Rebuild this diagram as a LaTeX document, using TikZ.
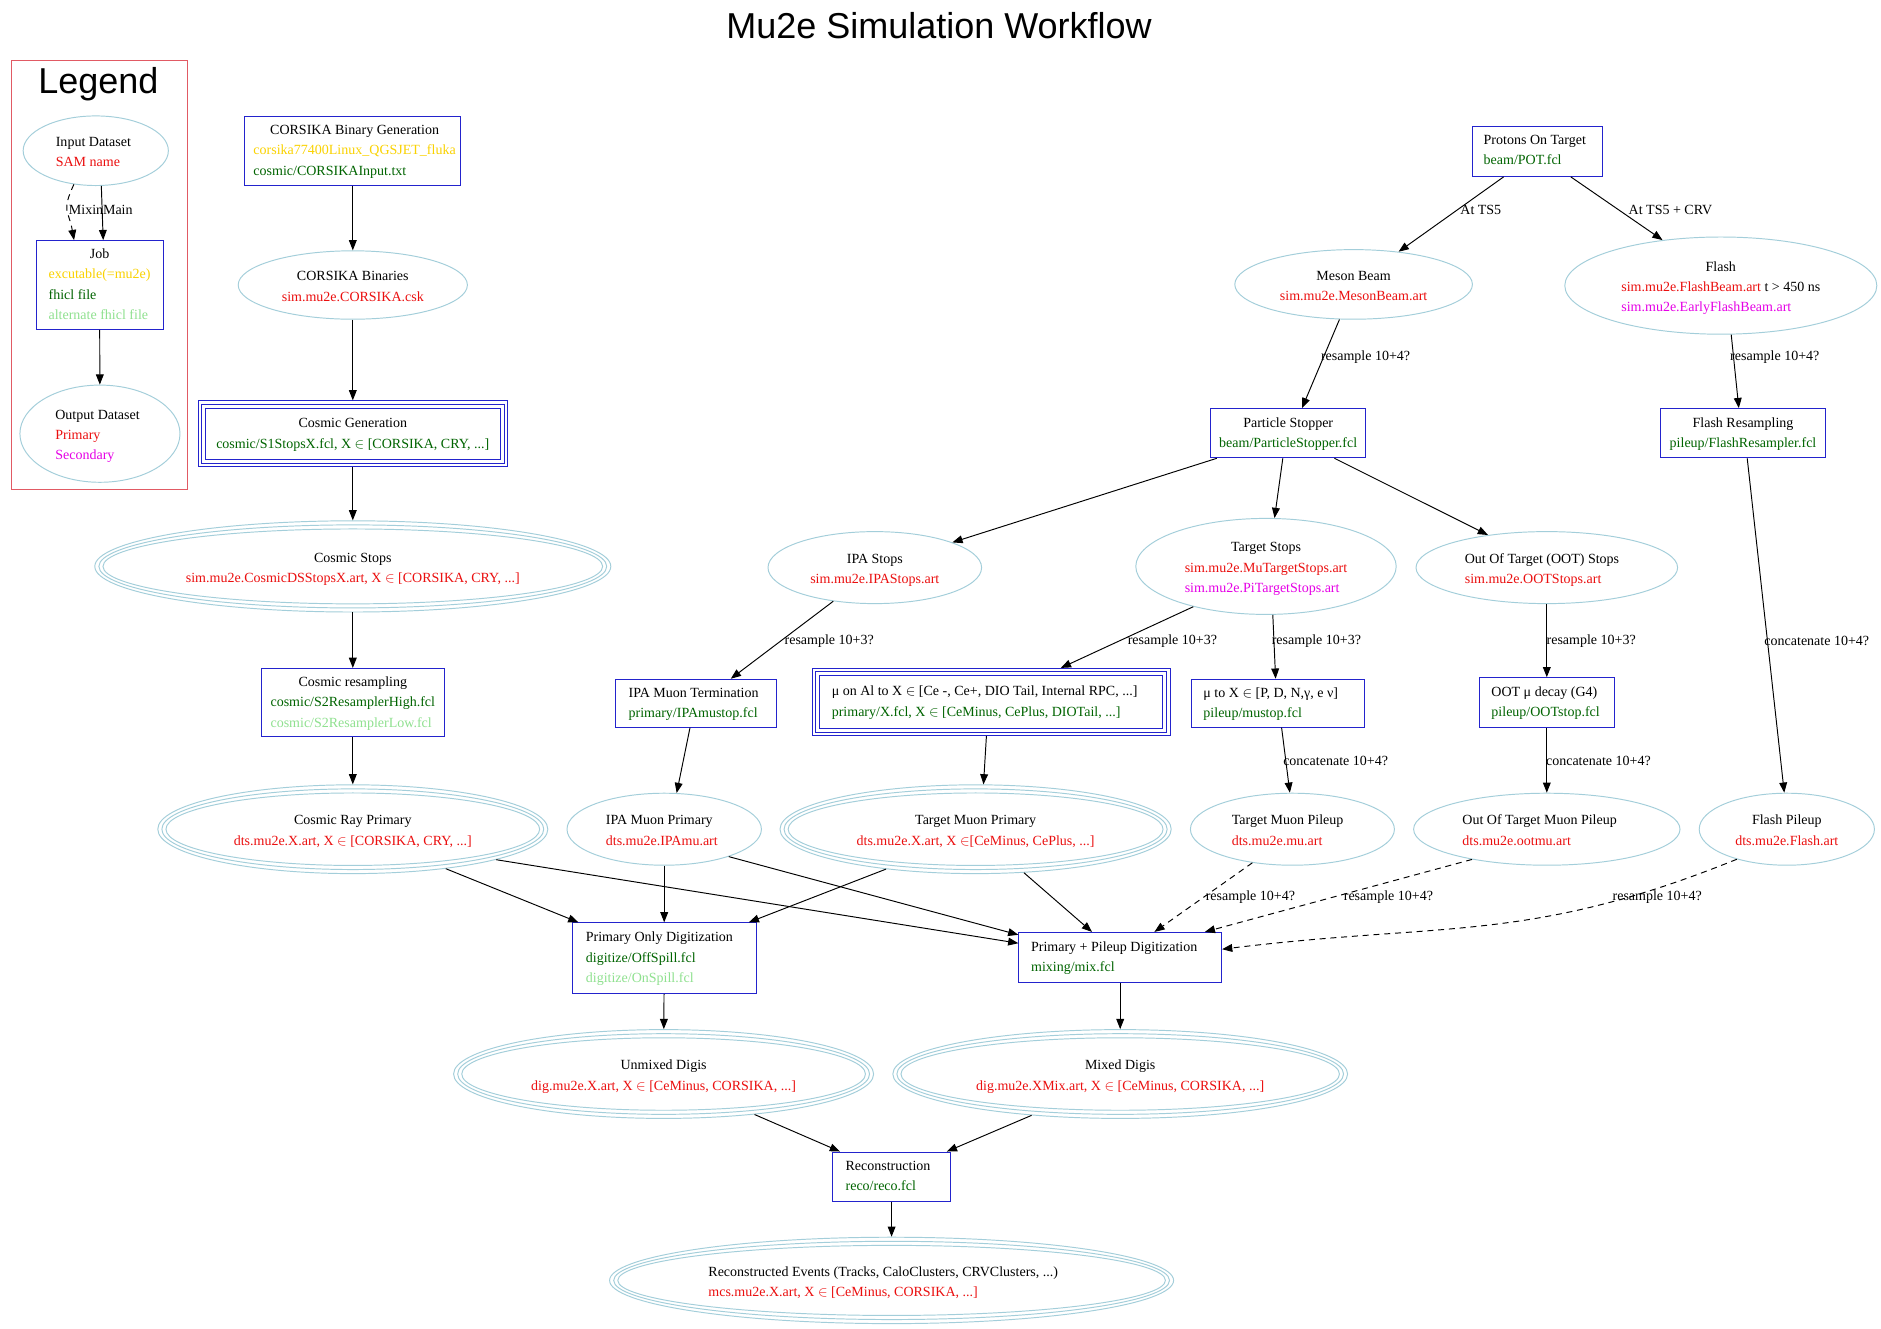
\documentclass[tikz,border=0pt]{standalone}
\usepackage{fontspec}
\setmainfont{Liberation Serif}
\newfontfamily\sansf{Liberation Sans}
\usetikzlibrary{shapes.geometric,arrows.meta,calc}
\definecolor{ellc}{RGB}{163,206,218}
\definecolor{boxc}{RGB}{35,35,205}
\definecolor{cred}{RGB}{235,15,15}
\definecolor{cdg}{RGB}{0,100,0}
\definecolor{clg}{RGB}{144,225,144}
\definecolor{cgold}{RGB}{250,210,0}
\definecolor{cmag}{RGB}{230,0,230}
\definecolor{legc}{RGB}{225,90,100}
\newcommand\tR[1]{\textcolor{cred}{#1}}
\newcommand\tG[1]{\textcolor{cdg}{#1}}
\newcommand\tLG[1]{\textcolor{clg}{#1}}
\newcommand\tY[1]{\textcolor{cgold}{#1}}
\newcommand\tM[1]{\textcolor{cmag}{#1}}
\newcommand\nf{\fontsize{11.67}{17}\selectfont}
\newcommand\cl[1]{\multicolumn{1}{@{}c@{}}{#1}}
% box labels: left-aligned block with optional leftward offset, centred block
\newcommand\TL[2]{\begin{tabular}{@{}l@{}}#2\end{tabular}\hspace*{#1}}
\newcommand\TC[1]{\begin{tabular}{@{}c@{}}#1\end{tabular}}
% ellipse labels: same, lowered slightly
\newcommand\EL[2]{\raisebox{-1.5pt}[\height][\depth]{\begin{tabular}{@{}l@{}}#2\end{tabular}}\hspace*{#1}}
\newcommand\EC[1]{\raisebox{-1.5pt}[\height][\depth]{\begin{tabular}{@{}c@{}}#1\end{tabular}}}
\newcommand\trell[3]{%
  \draw[ellc, line width=0.8pt] (#1.center) ellipse [x radius=#2-3.4, y radius=#3-3.4];
  \draw[ellc, line width=0.8pt] (#1.center) ellipse [x radius=#2-6.8, y radius=#3-6.8];}
\newcommand\trbox[1]{%
  \draw[boxc, line width=0.8pt] ([shift={(3.3pt,-3.3pt)}]#1.north west) rectangle ([shift={(-3.3pt,3.3pt)}]#1.south east);
  \draw[boxc, line width=0.8pt] ([shift={(6.6pt,-6.6pt)}]#1.north west) rectangle ([shift={(-6.6pt,6.6pt)}]#1.south east);}
\tikzset{
  ell/.style={ellipse, draw=ellc, line width=0.8pt, inner sep=0pt, font=\nf},
  box/.style={rectangle, draw=boxc, line width=0.8pt, inner sep=0pt, font=\nf},
  arr/.style={-{Triangle[length=8.5pt,width=6.5pt]}, line width=0.8pt, black},
  dsh/.style={dash pattern=on 5pt off 4pt},
  lab/.style={font=\nf, inner sep=0pt},
  bigt/.style={font=\fontsize{30}{36}\sansf, anchor=base, inner sep=0pt}
}
\begin{document}
\begin{tikzpicture}[x=1pt,y=-1pt]
\useasboundingbox[fill=white] (0,0) rectangle (1567.5,1106.7);

\node[bigt] (title) at (782.5,32) {Mu2e Simulation Workflow};

% Legend
\draw[legc, line width=0.8pt] (9.7,50) rectangle (156.4,408.3);
\node[bigt] (legtitle) at (82,78) {Legend};
\node[ell, minimum width=121, minimum height=58] (inds) at (79.8,125.6) {\EL{4pt}{Input Dataset\\ \tR{SAM name}}};
\node[box, minimum width=106, minimum height=74] (job) at (83,237.5) {\TL{0pt}{\cl{Job}\\ \tY{excutable(=mu2e)}\\ \tG{fhicl file}\\ \tLG{alternate fhicl file}}};
\node[ell, minimum width=133.4, minimum height=81] (outds) at (83.3,361.4) {\EL{4pt}{Output Dataset\\ \tR{Primary}\\ \tM{Secondary}}};
\draw[arr, dsh] (inds.-123) to[out=-115,in=100,looseness=1.4] ([xshift=-21.3pt]job.north);
\draw[arr] (inds.-81) -- ([xshift=3pt]job.north);
\draw[arr] (job) -- (outds);
\node[lab] (lmixin) at (71.7,175) {Mixin};
\node[lab] (lmain) at (98.2,175) {Main};

% Cosmic column
\node[box, minimum width=180, minimum height=57.5] (corsgen) at (294,125.5) {\TL{-3pt}{\cl{CORSIKA Binary Generation}\\ \tY{corsika77400Linux\_QGSJET\_fluka}\\ \tG{cosmic/CORSIKAInput.txt}}};
\node[ell, minimum width=191, minimum height=57] (corsbin) at (294,237.5) {\EC{CORSIKA Binaries\\ \tR{sim.mu2e.CORSIKA.csk}}};
\node[box, minimum width=258, minimum height=55] (cosgen) at (294,361.5) {\TC{Cosmic Generation\\ \tG{cosmic/S1StopsX.fcl, X $\in$ [CORSIKA, CRY, ...]}}};
\trbox{cosgen}
\node[ell, minimum width=430, minimum height=76] (cosstops) at (294,472) {\EC{Cosmic Stops\\ \tR{sim.mu2e.CosmicDSStopsX.art, X $\in$ [CORSIKA, CRY, ...]}}};
\trell{cosstops}{215}{38}
\node[box, minimum width=152, minimum height=57] (cosres) at (294,585.5) {\TL{0pt}{\cl{Cosmic resampling}\\ \tG{cosmic/S2ResamplerHigh.fcl}\\ \tLG{cosmic/S2ResamplerLow.fcl}}};
\node[ell, minimum width=325, minimum height=74] (crp) at (294,691) {\EC{Cosmic Ray Primary\\ \tR{dts.mu2e.X.art, X $\in$ [CORSIKA, CRY, ...]}}};
\trell{crp}{162.5}{37}

% Beam part
\node[box, minimum width=108, minimum height=42] (pot) at (1281,126) {\raisebox{0.8pt}[\height][\depth]{\TL{4pt}{Protons On Target\\ \tG{beam/POT.fcl}}}};
\node[ell, minimum width=198, minimum height=58] (meson) at (1128,237) {\EC{Meson Beam\\ \tR{sim.mu2e.MesonBeam.art}}};
\node[ell, minimum width=260, minimum height=81] (flash) at (1434,238) {\EL{0pt}{\cl{Flash}\\ \tR{sim.mu2e.FlashBeam.art} t > 450 ns\\ \tM{sim.mu2e.EarlyFlashBeam.art}}};
\node[box, minimum width=129, minimum height=41] (pstop) at (1073.5,361) {\TC{Particle Stopper\\ \tG{beam/ParticleStopper.fcl}}};
\node[box, minimum width=137, minimum height=41] (flashres) at (1452.5,361) {\TC{Flash Resampling\\ \tG{pileup/FlashResampler.fcl}}};

\node[ell, minimum width=178, minimum height=60] (ipastops) at (729,473) {\EC{IPA Stops\\ \tR{sim.mu2e.IPAStops.art}}};
\node[ell, minimum width=217, minimum height=80] (tstops) at (1055,472) {\EL{0pt}{\cl{Target Stops}\\ \tR{sim.mu2e.MuTargetStops.art}\\ \tM{sim.mu2e.PiTargetStops.art}}};
\node[ell, minimum width=218, minimum height=60] (ootstops) at (1289,473) {\EL{8pt}{Out Of Target (OOT) Stops\\ \tR{sim.mu2e.OOTStops.art}}};

\node[box, minimum width=134, minimum height=40] (ipaterm) at (580,586) {\TL{4pt}{IPA Muon Termination\\ \tG{primary/IPAmustop.fcl}}};
\node[box, minimum width=298, minimum height=56] (mual) at (826,585) {\TL{11pt}{μ on Al to X $\in$ [Ce -, Ce+, DIO Tail, Internal RPC, ...]\\ \tG{primary/X.fcl, X $\in$ [CeMinus, CePlus, DIOTail, ...]}}};
\trbox{mual}
\node[box, minimum width=144, minimum height=40] (mutox) at (1065,586) {\TL{12pt}{μ to X $\in$ [P, D, N,γ, e ν]\\ \tG{pileup/mustop.fcl}}};
\node[box, minimum width=112.5, minimum height=41.5] (ootdecay) at (1289,585.5) {\TL{2pt}{OOT μ decay (G4)\\ \tG{pileup/OOTstop.fcl}}};

\node[ell, minimum width=162, minimum height=60] (ipaprim) at (553.5,691) {\EL{4pt}{IPA Muon Primary\\ \tR{dts.mu2e.IPAmu.art}}};
\node[ell, minimum width=326, minimum height=74] (tmp) at (813,691) {\EC{Target Muon Primary\\ \tR{dts.mu2e.X.art, X $\in$[CeMinus, CePlus, ...]}}};
\trell{tmp}{163}{37}
\node[ell, minimum width=170, minimum height=60] (tmpu) at (1077,691) {\EL{8pt}{Target Muon Pileup\\ \tR{dts.mu2e.mu.art}}};
\node[ell, minimum width=222, minimum height=60] (ootpu) at (1289,691) {\EL{12pt}{Out Of Target Muon Pileup\\ \tR{dts.mu2e.ootmu.art}}};
\node[ell, minimum width=146, minimum height=60] (flashpu) at (1489,691) {\EC{Flash Pileup\\ \tR{dts.mu2e.Flash.art}}};

\node[box, minimum width=153, minimum height=59] (pod) at (553.5,798.5) {\TL{8pt}{Primary Only Digitization\\ \tG{digitize/OffSpill.fcl}\\ \tLG{digitize/OnSpill.fcl}}};
\node[box, minimum width=169, minimum height=42] (pp) at (933.5,798) {\TL{10pt}{Primary + Pileup Digitization\\ \tG{mixing/mix.fcl}}};

\node[ell, minimum width=350, minimum height=74] (unmixed) at (553,895) {\EC{Unmixed Digis\\ \tR{dig.mu2e.X.art, X $\in$ [CeMinus, CORSIKA, ...]}}};
\trell{unmixed}{175}{37}
\node[ell, minimum width=379, minimum height=74] (mixed) at (933.5,895) {\EC{Mixed Digis\\ \tR{dig.mu2e.XMix.art, X $\in$ [CeMinus, CORSIKA, ...]}}};
\trell{mixed}{189.5}{37}
\node[box, minimum width=98, minimum height=41] (reco) at (743,980.5) {\TL{6pt}{Reconstruction\\ \tG{reco/reco.fcl}}};
\node[ell, minimum width=470, minimum height=72] (recoev) at (743,1067) {\EL{14pt}{Reconstructed Events (Tracks, CaloClusters, CRVClusters, ...)\\ \tR{mcs.mu2e.X.art, X $\in$ [CeMinus, CORSIKA, ...]}}};
\trell{recoev}{235}{36}

% Edges
\draw[arr] (corsgen) -- (corsbin);
\draw[arr] (corsbin) -- (cosgen);
\draw[arr] (cosgen) -- (cosstops);
\draw[arr] (cosstops) -- (cosres);
\draw[arr] (cosres) -- (crp);
\draw[arr] ([xshift=-28pt]pot.south) -- (meson.36);
\draw[arr] ([xshift=28pt]pot.south) -- (flash.142.8);
\draw[arr] (meson.-112.6) -- ([xshift=11.5pt]pstop.north);
\draw[arr] (flash.-78.7) -- ([xshift=-3.5pt]flashres.north);
\draw[arr] ([xshift=-59.5pt]pstop.south) -- (ipastops.18.4);
\draw[arr] ([xshift=-4.5pt]pstop.south) -- (tstops.80);
\draw[arr] ([xshift=38.5pt]pstop.south) -- (ootstops.151.6);
\draw[arr] ([xshift=3.5pt]flashres.south) -- (flashpu.94);
\draw[arr] (ipastops.-141.3) -- ([xshift=29pt]ipaterm.north);
\draw[arr] (tstops.-151.7) -- ([xshift=58pt]mual.north);
\draw[arr] (tstops.-82.9) -- ([xshift=-2pt]mutox.north);
\draw[arr] (ootstops) -- (ootdecay);
\draw[arr] ([xshift=-5pt]ipaterm.south) -- (ipaprim.71.4);
\draw[arr] ([xshift=-4pt]mual.south) -- (tmp.80.5);
\draw[arr] ([xshift=3pt]mutox.south) -- (tmpu.94);
\draw[arr] (ootdecay) -- (ootpu);
\draw[arr] (crp.-23.1) -- ([xshift=-71.5pt]pod.north);
\draw[arr] (crp.-12.7) -- ([yshift=12pt]pp.west);
\draw[arr] (ipaprim) -- (pod);
\draw[arr] (ipaprim.-23.9) -- ([yshift=19pt]pp.west);
\draw[arr] (tmp.-156.3) -- ([xshift=70.5pt]pod.north);
\draw[arr] (tmp.-42.7) -- ([xshift=-23.5pt]pp.north);
\draw[arr, dsh] (tmpu.-140.5) -- ([xshift=28.5pt]pp.north);
\draw[arr, dsh] (ootpu.-158.8) -- ([xshift=70.5pt]pp.north);
\draw[arr, dsh] (flashpu.-149.8) to[out=-158,in=7,looseness=1.1] ([yshift=7pt]pp.east);
\draw[arr] (pod) -- (unmixed);
\draw[arr] (pp) -- (mixed);
\draw[arr] (unmixed.-24) -- ([xshift=-43pt]reco.north);
\draw[arr] (mixed.-155.9) -- ([xshift=46pt]reco.north);
\draw[arr] (reco) -- (recoev);

% Edge labels
\node[lab] (l1) at (1234,175) {At TS5};
\node[lab] (l2) at (1392,175) {At TS5 + CRV};
\node[lab] (l3) at (1138,298) {resample 10+4?};
\node[lab] (l4) at (1479,298) {resample 10+4?};
\node[lab] (l5) at (1514,534) {concatenate 10+4?};
\node[lab] (l6) at (691,534) {resample 10+3?};
\node[lab] (l7) at (977,534) {resample 10+3?};
\node[lab] (l8) at (1097,534) {resample 10+3?};
\node[lab] (l9) at (1326,534) {resample 10+3?};
\node[lab] (l10) at (1113,634) {concatenate 10+4?};
\node[lab] (l11) at (1332,634) {concatenate 10+4?};
\node[lab] (l12) at (1042,748) {resample 10+4?};
\node[lab] (l13) at (1157,748) {resample 10+4?};
\node[lab] (l14) at (1381,748) {resample 10+4?};
\end{tikzpicture}
\end{document}
